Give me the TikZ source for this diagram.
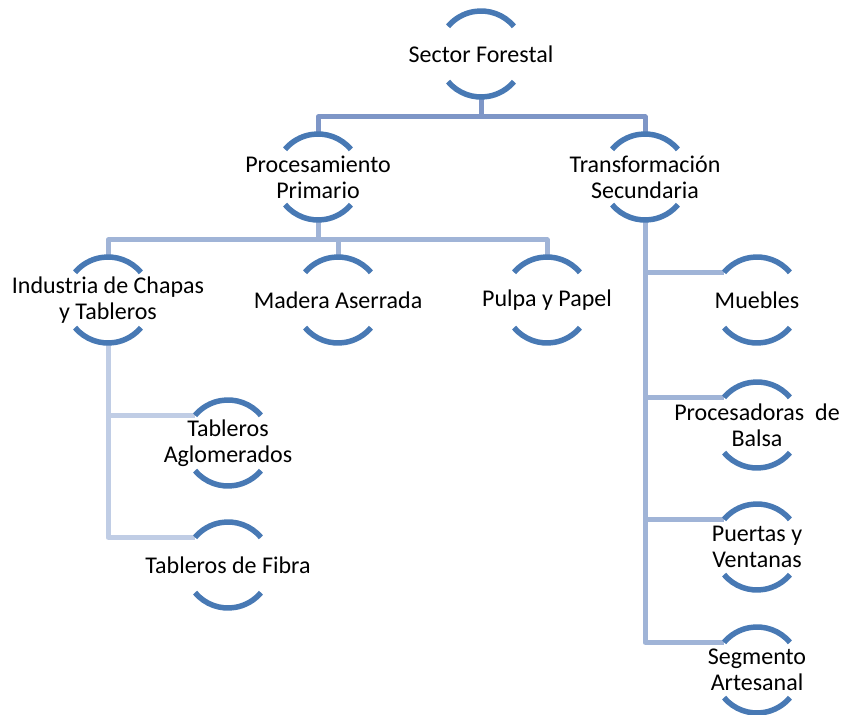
\documentclass[tikz,border=0pt]{standalone}
\usepackage{fontspec}
\setmainfont{Carlito}
\definecolor{arcblue}{RGB}{72,121,180}
\definecolor{clrA}{RGB}{126,150,199}
\definecolor{clrB}{RGB}{160,180,215}
\definecolor{clrC}{RGB}{192,205,229}

\begin{document}
\begin{tikzpicture}[x=1pt,y=1pt,
    hub/.style={align=center,inner sep=0pt,font=\fontsize{24}{26}\selectfont},
    arcline/.style={arcblue,line width=5.5pt},
    linka/.style={clrA,line width=5pt,line join=round},
    linkb/.style={clrB,line width=5pt,line join=round},
    linkc/.style={clrC,line width=5pt,line join=round}]
    \useasboundingbox (0,0) rectangle (844,715);

    \node[hub] (sf) at (481,661) {Sector Forestal};
    \node[hub] (pp) at (318,538) {Procesamiento\\Primario};
    \node[hub] (ts) at (645,538) {Transformación\\Secundaria};

    \node[hub] (ic) at (108,415) {Industria de Chapas\\y Tableros};
    \node[hub] (ma) at (338,415) {Madera Aserrada};
    \node[hub] (pu) at (547,415) {Pulpa y Papel};

    \node[hub] (ta) at (228,272) {Tableros\\Aglomerados};
    \node[hub] (tf) at (228,150) {Tableros de Fibra};

    \node[hub] (mu) at (757,415) {Muebles};
    \node[hub] (pb) at (757,290) {Procesadoras~~de\\Balsa};
    \node[hub] (pv) at (757,168) {Puertas y\\Ventanas};
    \node[hub] (sa) at (757,45) {Segmento\\Artesanal};

    % first level
    \draw[linka] ([yshift=-43pt]sf.center) -- ++(0,-20) -| ([yshift=43pt]pp.center);
    \draw[linka] ([yshift=-43pt]sf.center) -- ++(0,-20) -| ([yshift=43pt]ts.center);

    % second level
    \foreach \c in {ic,ma,pu}
      \draw[linkb] ([yshift=-43pt]pp.center) -- ++(0,-20) -| ([yshift=43pt]\c.center);
    \foreach \c in {mu,pb,pv,sa}
      \draw[linkb] ([yshift=-43pt]ts.center) |- ([shift={(140:43)}]\c.center);

    % third level
    \foreach \c in {ta,tf}
      \draw[linkc] ([yshift=-43pt]ic.center) |- ([shift={(140:43)}]\c.center);

    % the two arcs round every label
    \foreach \n in {sf,pp,ts,ic,ma,pu,ta,tf,mu,pb,pv,sa}{
      \draw[arcline] ([shift={(40:43)}]\n.center) arc[start angle=40,end angle=140,radius=43];
      \draw[arcline] ([shift={(220:43)}]\n.center) arc[start angle=220,end angle=320,radius=43];
    }
\end{tikzpicture}
\end{document}
